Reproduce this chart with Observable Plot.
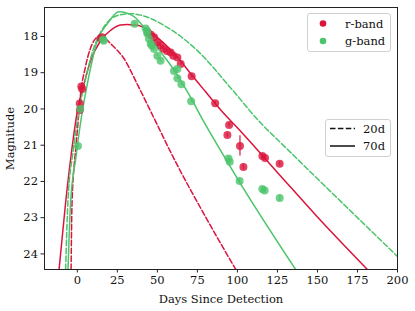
<!DOCTYPE html>
<html>
<head>
<meta charset="utf-8">
<script src="https://cdn.jsdelivr.net/npm/d3@7"></script>
<script src="https://cdn.jsdelivr.net/npm/@observablehq/plot@0.6"></script>
<style>
  html, body { margin: 0; padding: 0; background: #fff; }
  #wrap { position: relative; width: 415px; height: 311px; font-family: "DejaVu Serif", serif; }
  #wrap svg.legend { position: absolute; }
</style>
</head>
<body>
<div id="wrap"></div>
<script>
// ---- data ----
const xTicks = [0, 25, 50, 75, 100, 125, 150, 175, 200];
const yTicks = [18, 19, 20, 21, 22, 23, 24];

const bands = ["r-band", "g-band"];
const models = ["20d", "70d"];
const bandColors = ["#dc143c", "#4cc46c"];

// observed r-band points
const rDays = [1.5, 1.6, 2.5, 3.0, 14.5, 15.5, 44, 46, 47.9, 50, 52, 54, 56, 58.3, 60, 62.5, 64.6, 71.4, 86.1, 93.75, 94.8, 101.6, 103.75, 115.6, 117.25, 126.4];
const rMag  = [19.85, 20.03, 19.38, 19.45, 18.05, 18.02, 17.88, 17.95, 18.02, 18.16, 18.25, 18.34, 18.4, 18.44, 18.53, 18.58, 18.76, 19.1, 19.84, 20.72, 20.44, 21.02, 21.6, 21.3, 21.35, 21.51];
const rErr  = [0.05, 0.05, 0.05, 0.05, 0.03, 0.03, 0.03, 0.03, 0.03, 0.03, 0.03, 0.03, 0.03, 0.03, 0.03, 0.03, 0.03, 0.04, 0.05, 0.06, 0.06, 0.28, 0.08, 0.06, 0.06, 0.06];

// observed g-band points
const gDays = [0.4, 1.8, 16, 16.5, 35.8, 42.7, 43.5, 43.75, 44.75, 45.8, 46.5, 47.9, 50, 52, 60.4, 62.5, 62.5, 65, 71.1, 94.4, 95.2, 101.4, 115.6, 117, 126.4];
const gMag  = [21.02, 20.0, 18.08, 18.12, 17.65, 17.78, 17.85, 17.92, 18.06, 18.2, 18.25, 18.34, 18.53, 18.67, 18.95, 18.9, 19.15, 19.32, 19.79, 21.37, 21.46, 21.99, 22.21, 22.25, 22.46];
const gErr  = [0.06, 0.05, 0.03, 0.03, 0.03, 0.03, 0.03, 0.03, 0.03, 0.03, 0.03, 0.03, 0.03, 0.03, 0.03, 0.03, 0.03, 0.03, 0.04, 0.06, 0.06, 0.07, 0.07, 0.07, 0.08];

// model light curves
const r20Days = [-3.9, -3.3, -1, 0, 2, 5, 8, 11, 14, 17, 22, 29, 37.5, 45, 61.4, 80, 99];
const r20Mag  = [24.43, 22.58, 21.1, 20.6, 19.6, 18.85, 18.35, 18.08, 18.0, 18.05, 18.25, 18.6, 19.32, 19.99, 21.46, 22.97, 24.43];
const r70Days = [-11.4, -7.3, -3.6, 0, 4.1, 8.3, 14.6, 20.8, 27, 31, 35, 40, 45, 50, 55, 60, 65, 70, 80, 90, 100, 125, 150, 181.2];
const r70Mag  = [24.43, 22.58, 21.18, 20.07, 19.32, 18.67, 18.11, 17.83, 17.68, 17.67, 17.68, 17.72, 17.85, 18.03, 18.22, 18.45, 18.7, 18.98, 19.52, 20.05, 20.52, 21.75, 22.98, 24.43];
const g20Days = [-7.3, -5.9, -2.7, 1, 5, 10, 15, 20, 25, 30, 33.4, 39.6, 54, 75, 95.8, 114.6, 127, 200];
const g20Mag  = [24.43, 22.58, 21.18, 20.07, 19.2, 18.35, 17.85, 17.55, 17.42, 17.38, 17.37, 17.41, 17.69, 18.39, 19.42, 20.39, 20.93, 24.07];
const g70Days = [-5.8, -4.2, -1, 3.1, 6.6, 12.5, 18.75, 26, 35.4, 43, 50, 60, 70, 79, 93.75, 100, 136.4];
const g70Mag  = [24.43, 22.58, 21.37, 20.07, 19.23, 18.11, 17.65, 17.32, 17.45, 17.83, 18.3, 18.9, 19.62, 20.35, 21.46, 21.92, 24.43];

// ---- tables built from the arrays ----
const pts = (days, mag, err, band) => days.map((d, i) => ({day: d, mag: mag[i], err: err[i], band}));
const rPts = pts(rDays, rMag, rErr, bands[0]);
const gPts = pts(gDays, gMag, gErr, bands[1]);
const curve = (days, mag, band, model) => days.map((d, i) => ({day: d, mag: mag[i], band, model}));
const curves = [
  ...curve(r20Days, r20Mag, bands[0], models[0]),
  ...curve(r70Days, r70Mag, bands[0], models[1]),
  ...curve(g20Days, g20Mag, bands[1], models[0]),
  ...curve(g70Days, g70Mag, bands[1], models[1])
];
const colorOf = b => bandColors[bands.indexOf(b)];
const FS = 11.5;

const lineMark = (band, model) => Plot.line(curves.filter(d => d.band === band && d.model === model), {
  x: "day", y: "mag", stroke: colorOf(band), strokeWidth: 1.5,
  strokeDasharray: model === models[0] ? "5.5,2.4" : null,
  curve: "monotone-x", clip: true
});

const chart = Plot.plot({
  width: 415,
  height: 311,
  marginLeft: 44,
  marginRight: 18,
  marginTop: 7,
  marginBottom: 42,
  style: {fontFamily: "DejaVu Serif, serif", fontSize: FS + "px", background: "white", color: "#111"},
  x: {domain: [-20.5, 200]},
  y: {domain: [17.2, 24.43], reverse: true},
  marks: [
    lineMark(bands[0], models[0]),
    lineMark(bands[0], models[1]),
    lineMark(bands[1], models[0]),
    lineMark(bands[1], models[1]),
    Plot.ruleX([...rPts, ...gPts], {x: "day", y1: d => d.mag - d.err, y2: d => d.mag + d.err,
      stroke: d => colorOf(d.band), strokeWidth: 1.5, strokeOpacity: 0.8, clip: true}),
    Plot.dot(rPts, {x: "day", y: "mag", r: 4, fill: colorOf(bands[0]), fillOpacity: 0.8, stroke: "none", clip: true}),
    Plot.dot(gPts, {x: "day", y: "mag", r: 4, fill: colorOf(bands[1]), fillOpacity: 0.8, stroke: "none", clip: true}),
    Plot.frame({stroke: "#222", strokeWidth: 1}),
    Plot.axisX({ticks: xTicks, tickSize: 3.5, tickPadding: 2.5, stroke: "#222", fontSize: FS,
      label: "Days Since Detection", labelAnchor: "center", labelArrow: "none", labelOffset: 33}),
    Plot.axisY({ticks: yTicks, tickSize: 3.5, tickPadding: 3, stroke: "#222", fontSize: FS,
      label: "Magnitude", labelAnchor: "center", labelArrow: "none", labelOffset: 39})
  ]
});
const wrap = document.getElementById("wrap");
wrap.appendChild(chart);

// ---- legends (overlay, built from the same arrays) ----
const NS = "http://www.w3.org/2000/svg";
function legendBox(left, top, w, h, rows) {
  const svg = document.createElementNS(NS, "svg");
  svg.setAttribute("class", "legend");
  svg.setAttribute("width", w + 2);
  svg.setAttribute("height", h + 2);
  svg.style.left = (left - 1) + "px";
  svg.style.top = (top - 1) + "px";
  const box = document.createElementNS(NS, "rect");
  box.setAttribute("x", 1.5); box.setAttribute("y", 1.5);
  box.setAttribute("width", w - 1); box.setAttribute("height", h - 1);
  box.setAttribute("rx", 2.5);
  box.setAttribute("fill", "rgba(255,255,255,0.8)");
  box.setAttribute("stroke", "#d0d0d0");
  svg.appendChild(box);
  rows.forEach(fn => fn(svg));
  wrap.appendChild(svg);
}
function txt(svg, x, y, s) {
  const t = document.createElementNS(NS, "text");
  t.setAttribute("x", x); t.setAttribute("y", y);
  t.setAttribute("font-family", "DejaVu Serif, serif");
  t.setAttribute("font-size", FS + "px");
  t.setAttribute("fill", "#111");
  t.setAttribute("dominant-baseline", "central");
  t.textContent = s;
  svg.appendChild(t);
}
legendBox(307, 13, 84, 39, bands.map((b, i) => svg => {
  const c = document.createElementNS(NS, "circle");
  const cy = 11.5 + i * 17.5;
  c.setAttribute("cx", 17); c.setAttribute("cy", cy); c.setAttribute("r", 3.3);
  c.setAttribute("fill", bandColors[i]);
  svg.appendChild(c);
  txt(svg, 39, cy, b);
}));
legendBox(325, 119, 66, 38, models.map((m, i) => svg => {
  const l = document.createElementNS(NS, "line");
  const cy = 10.5 + i * 17.5;
  l.setAttribute("x1", 6); l.setAttribute("x2", 31);
  l.setAttribute("y1", cy); l.setAttribute("y2", cy);
  l.setAttribute("stroke", "#111"); l.setAttribute("stroke-width", 1.5);
  if (i === 0) l.setAttribute("stroke-dasharray", "5.5,2.4");
  svg.appendChild(l);
  txt(svg, 39, cy, m);
}));
</script>
</body>
</html>
